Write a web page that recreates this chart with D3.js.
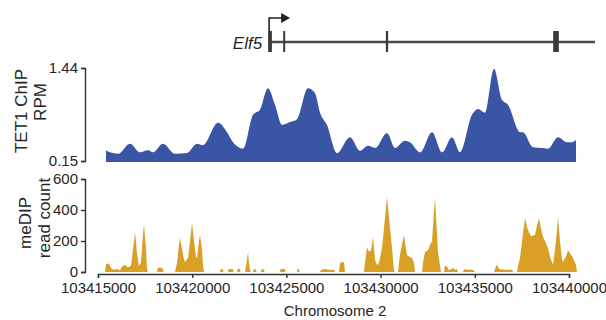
<!DOCTYPE html>
<html>
<head>
<meta charset="utf-8">
<script src="https://cdn.jsdelivr.net/npm/d3@7"></script>
<style>
  body { margin: 0; background: #fff; }
  svg { display: block; }
  text { font-family: "Liberation Sans", Arial, sans-serif; fill: #262626; }
</style>
</head>
<body>
<svg id="chart" width="606" height="320"></svg>
<script>
// region on chromosome 2, positions below are bp offsets from chromStart
var chromStart = 103415000;
var xTicks = [103415000, 103420000, 103425000, 103430000, 103435000, 103440000];

// TET1 ChIP (RPM)
var tetPos = [425, 637, 1062, 1699, 2229, 2654, 2919, 3450, 4087, 4724, 5255, 5573, 6370, 6847, 7166, 7697,
  8227, 8599, 9024, 9395, 9767, 10191, 10563, 11147, 11518, 11784, 12155, 12686, 13376, 13907, 14332, 14703,
  15340, 15765, 16296, 16561, 17092, 17729, 18260, 18790, 19215, 19852, 20170, 20542, 21020, 21444, 21763,
  22400, 22559, 23090, 23621, 23886, 24417, 24895, 25160, 25372];
var tetRpm = [0.30, 0.27, 0.25, 0.39, 0.27, 0.30, 0.27, 0.39, 0.25, 0.26, 0.39, 0.37, 0.68, 0.55, 0.41, 0.32,
  0.79, 0.86, 1.16, 0.93, 0.65, 0.69, 0.73, 1.16, 1.09, 0.82, 0.65, 0.26, 0.48, 0.29, 0.36, 0.33,
  0.54, 0.33, 0.43, 0.41, 0.27, 0.55, 0.27, 0.48, 0.27, 0.79, 0.87, 0.82, 1.43, 1.00, 0.93,
  0.55, 0.55, 0.34, 0.33, 0.32, 0.48, 0.41, 0.41, 0.44];
var tetTicks = [0.15, 1.44];

// meDIP read count
var medipPos = [372, 425, 584, 690, 849, 1009, 1168, 1274, 1433, 1592, 1752, 1911, 1964, 2070, 2176, 2282, 2389, 2442, 2548, 2601, 2654,
  3132, 3158, 3291, 3450, 3477,
  4087, 4193, 4299, 4353, 4459, 4565, 4618, 4777, 4883, 4990, 5096, 5202, 5255, 5361, 5414, 5520, 5573, 5626,
  6476, 6502, 6635, 6661, 6900, 6927, 7166, 7192, 7378, 7405, 7537, 7564,
  7803, 7856, 7962, 8015, 8068, 8121, 8227, 8254, 8387, 8413, 8652, 8678, 8811, 8838,
  9661, 9687, 9926, 9953, 10563, 10589, 10669, 10695,
  11784, 11837, 12102, 12208, 12527, 12580, 12792, 12845, 13058, 13111,
  14119, 14172, 14279, 14385, 14491, 14597, 14703, 14809, 14915, 15075, 15234, 15340, 15446, 15606, 15712, 15765,
  15924, 15977, 16030, 16136, 16242, 16349, 16402, 16508, 16667, 16773, 16826,
  17198, 17251, 17357, 17516, 17676, 17729, 17835, 17888, 17994, 18047, 18153, 18206,
  18366, 18419, 18525, 18631, 18737, 18843, 18950, 19056, 19109,
  19374, 19427, 19533, 19746, 19852, 19958, 20011,
  21020, 21073, 21179, 21285, 21604, 21975, 22028,
  22241, 22294, 22400, 22559, 22665, 22771, 22824, 22984, 23196, 23302, 23408, 23514, 23621, 23727, 23886, 23992,
  24151, 24311, 24417, 24523, 24629, 24682, 24842, 24948, 25054, 25213, 25319, 25372, 25425];
var medipCount = [0, 50, 55, 25, 15, 20, 12, 35, 45, 30, 40, 200, 258, 120, 40, 60, 250, 303, 150, 20, 0,
  0, 25, 30, 20, 0,
  0, 60, 180, 219, 150, 80, 65, 90, 200, 316, 200, 100, 90, 200, 239, 150, 40, 0,
  0, 18, 18, 0, 0, 20, 20, 0, 0, 20, 20, 0,
  0, 40, 129, 60, 15, 0, 0, 18, 18, 0, 0, 18, 18, 0,
  0, 20, 20, 0, 0, 20, 20, 0,
  0, 15, 20, 15, 15, 0, 0, 60, 65, 0,
  0, 60, 160, 130, 140, 225, 80, 45, 60, 155, 350, 484, 350, 155, 10, 0,
  0, 60, 110, 180, 239, 150, 110, 100, 90, 60, 0,
  0, 60, 129, 140, 190, 194, 400, 477, 250, 130, 40, 0,
  0, 40, 35, 10, 20, 25, 15, 20, 0,
  0, 20, 15, 15, 15, 10, 0,
  0, 20, 50, 20, 15, 15, 0,
  0, 40, 90, 250, 348, 290, 271, 230, 239, 300, 348, 280, 226, 200, 155, 100,
  45, 200, 355, 200, 80, 65, 100, 142, 120, 90, 60, 45, 0];
var medipTicks = [0, 200, 400, 600];

// Elf5 gene model
var geneName = "Elf5";
var geneSpan = [9130, 26380];
var exonStart = [9030, 9830, 15280, 24160];
var exonLen = [200, 90, 120, 300];

var svg = d3.select("#chart");

var x = d3.scaleLinear().domain([103415000, 103440000]).range([98, 569]);
var yTet = d3.scaleLinear().domain([0.15, 1.44]).range([161, 68]);
var yMed = d3.scaleLinear().domain([0, 600]).range([272, 179]);

var tet = tetPos.map(function(p, i) { return { pos: chromStart + p, v: tetRpm[i] }; });
var med = medipPos.map(function(p, i) { return { pos: chromStart + p, v: medipCount[i] }; });

// gene track
var g = svg.append("g").attr("class", "gene");
g.append("line")
    .attr("x1", x(chromStart + geneSpan[0])).attr("x2", x(chromStart + geneSpan[1]))
    .attr("y1", 42).attr("y2", 42)
    .attr("stroke", "#4a4a4a").attr("stroke-width", 2.5);
g.selectAll("rect").data(exonStart).enter().append("rect")
    .attr("x", function(d) { return x(chromStart + d); })
    .attr("width", function(d, i) { return Math.max(2, x(chromStart + d + exonLen[i]) - x(chromStart + d)); })
    .attr("y", 31).attr("height", 21)
    .attr("fill", "#3a3a3a");
var tss = x(chromStart + exonStart[0]) + 1;
g.append("path")
    .attr("d", "M" + tss + ",31V18H" + (tss + 13))
    .attr("fill", "none").attr("stroke", "#222").attr("stroke-width", 1.6);
g.append("path")
    .attr("d", "M" + (tss + 12) + ",13L" + (tss + 21) + ",18L" + (tss + 12) + ",23Z")
    .attr("fill", "#222");
g.append("text")
    .attr("x", tss - 7).attr("y", 49)
    .attr("text-anchor", "end")
    .style("font-size", "17px").style("font-style", "italic")
    .text(geneName);

// TET1 ChIP track
svg.append("path")
    .datum(tet)
    .attr("fill", "#3a55a6")
    .attr("d", d3.area()
      .x(function(d) { return x(d.pos); })
      .y0(yTet(0.15) + 1)
      .y1(function(d) { return yTet(d.v); })
      .curve(d3.curveMonotoneX));

// meDIP track
svg.append("path")
    .datum(med)
    .attr("fill", "#daa026")
    .attr("d", d3.area()
      .x(function(d) { return x(d.pos); })
      .y0(yMed(0))
      .y1(function(d) { return yMed(d.v); }));

// axes
function styleAxis(sel) {
  sel.select(".domain").attr("stroke", "#333").attr("stroke-width", 1.4);
  sel.selectAll(".tick line").attr("stroke", "#333").attr("stroke-width", 1.4);
  sel.selectAll(".tick text").attr("fill", "#262626")
     .style("font-size", "15px").style("font-family", "'Liberation Sans', Arial, sans-serif");
}

svg.append("g")
    .attr("transform", "translate(85,0)")
    .call(d3.axisLeft(yTet).tickValues(tetTicks).tickFormat(d3.format(".2f")).tickSize(4).tickSizeOuter(4).tickPadding(3))
    .call(styleAxis);

svg.append("g")
    .attr("transform", "translate(85,0)")
    .call(d3.axisLeft(yMed).tickValues(medipTicks).tickSize(4).tickSizeOuter(4).tickPadding(3))
    .call(styleAxis);

svg.append("g")
    .attr("transform", "translate(0,274)")
    .call(d3.axisBottom(x).tickValues(xTicks).tickFormat(d3.format("d")).tickSize(4).tickSizeOuter(4).tickPadding(4))
    .call(styleAxis);

// axis titles
function yTitle(lines, cy) {
  lines.forEach(function(t, i) {
    svg.append("text")
        .attr("transform", "translate(" + t.bx + "," + cy[i] + ") rotate(-90)")
        .attr("text-anchor", "middle")
        .style("font-size", "17px")
        .text(t.label);
  });
}
yTitle([{ label: "TET1 ChIP", bx: 27 }, { label: "RPM", bx: 46 }], [111, 102]);
yTitle([{ label: "meDIP", bx: 31 }, { label: "read count", bx: 50 }], [223, 218]);

svg.append("text")
    .attr("x", 335).attr("y", 316)
    .attr("text-anchor", "middle")
    .style("font-size", "15px")
    .text("Chromosome 2");
</script>
</body>
</html>
